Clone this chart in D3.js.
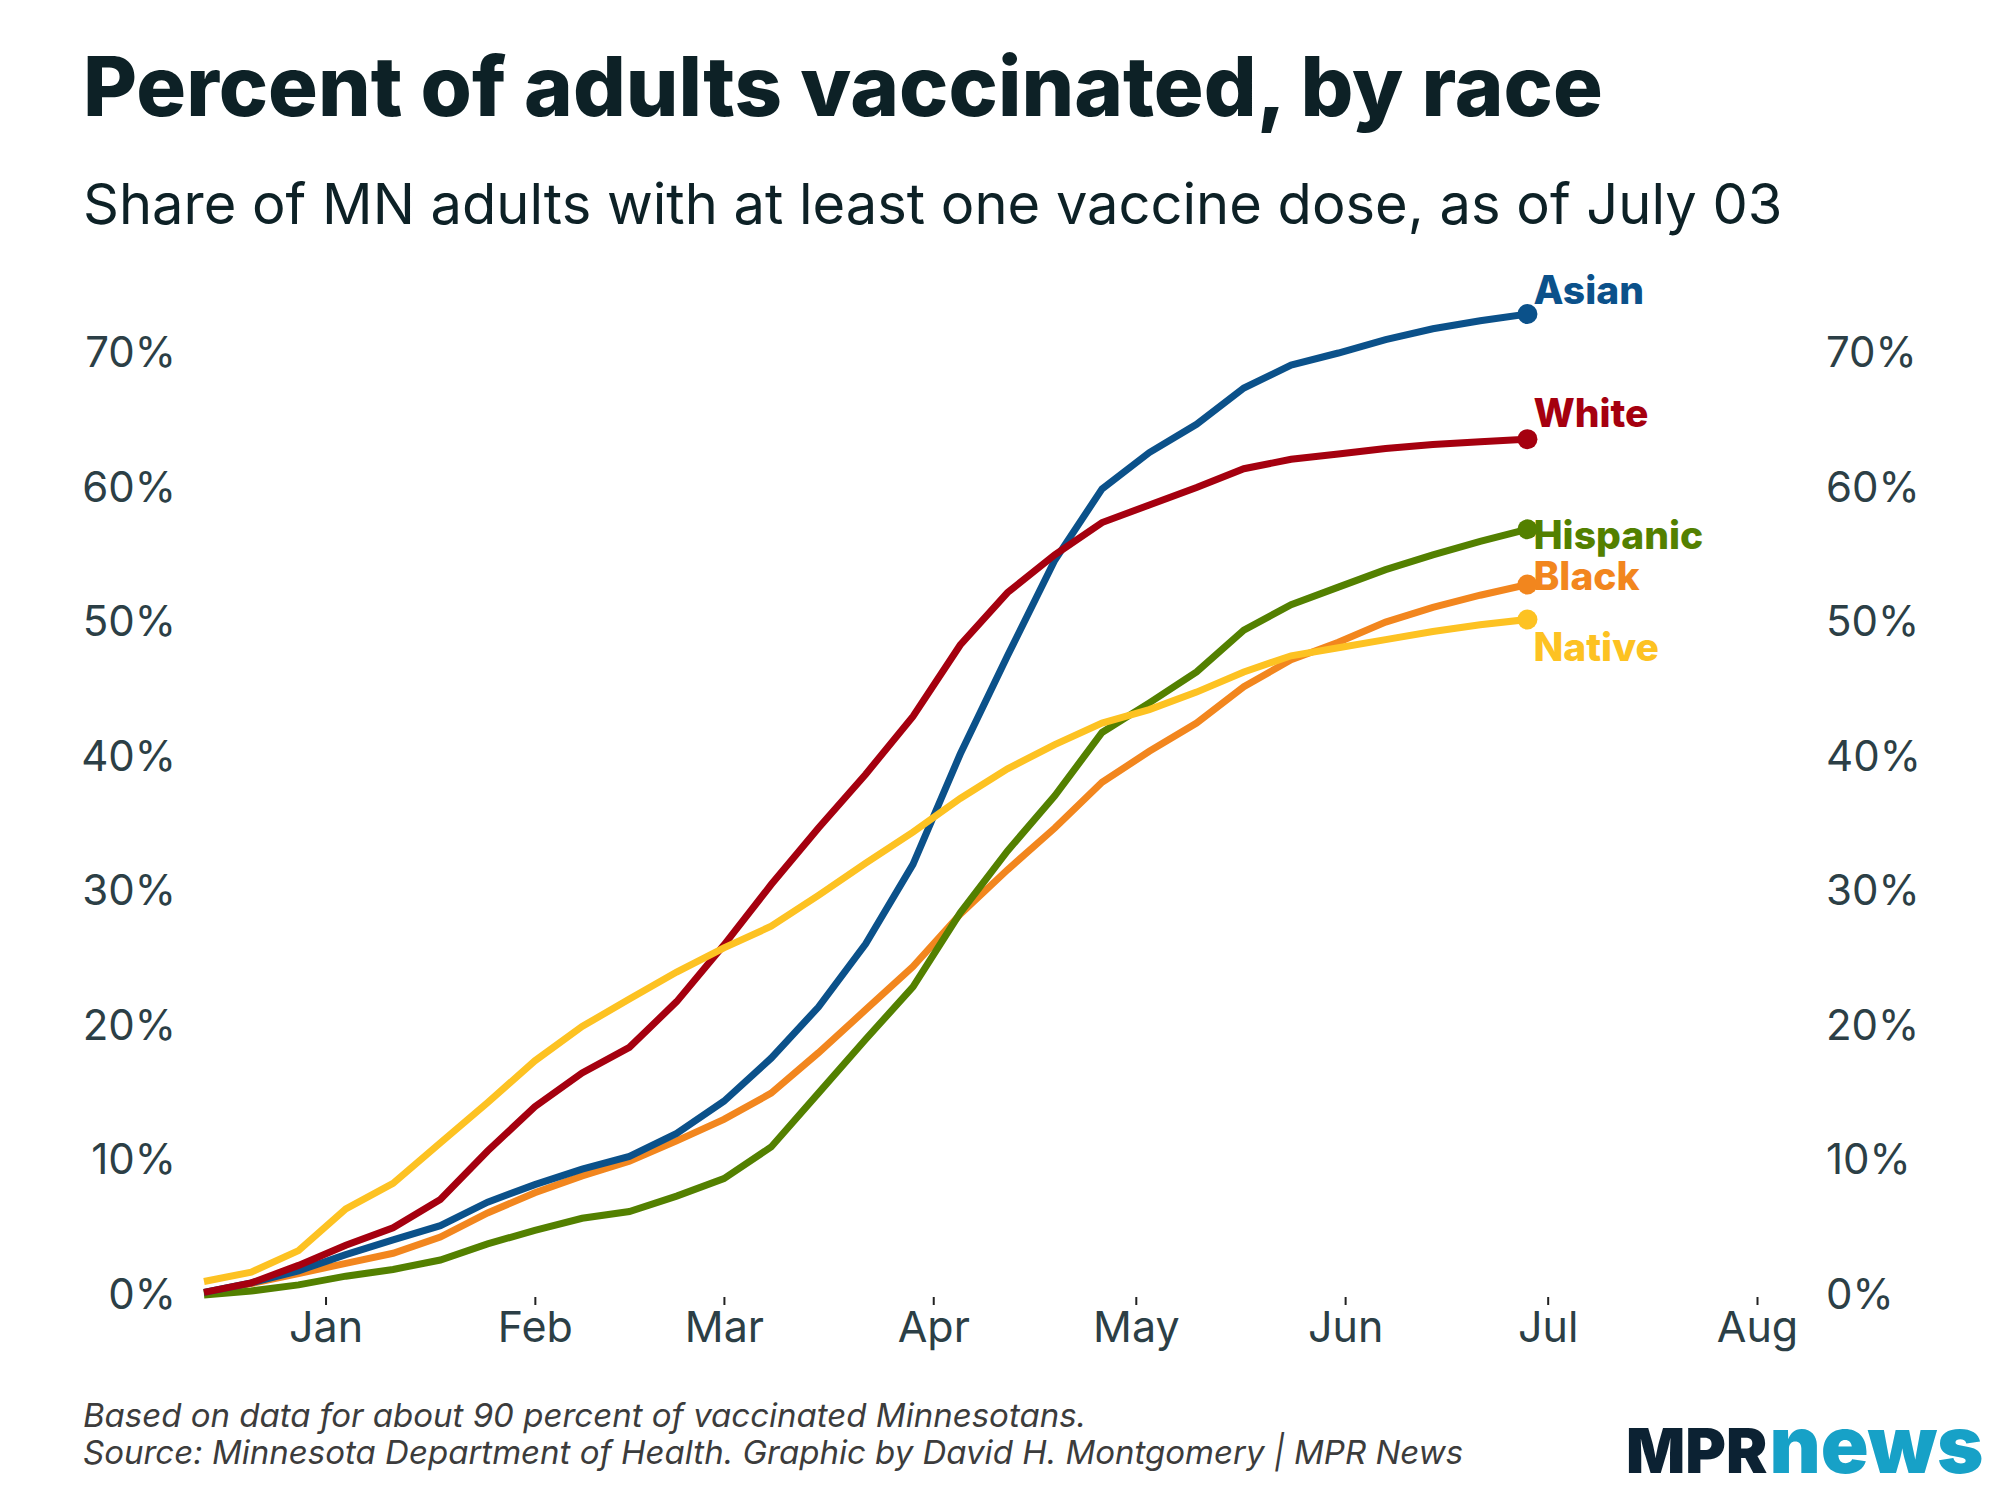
<!DOCTYPE html>
<html>
<head>
<meta charset="utf-8">
<script src="https://cdn.jsdelivr.net/npm/d3@7"></script>
<style>
  html, body { margin: 0; padding: 0; background: #ffffff; }
  svg { display: block; }
</style>
</head>
<body>
<script>
// ---------- DATA ----------
const dates = [
  "2020-12-14", "2020-12-21", "2020-12-28",
  "2021-01-04", "2021-01-11", "2021-01-18", "2021-01-25",
  "2021-02-01", "2021-02-08", "2021-02-15", "2021-02-22",
  "2021-03-01", "2021-03-08", "2021-03-15", "2021-03-22", "2021-03-29",
  "2021-04-05", "2021-04-12", "2021-04-19", "2021-04-26",
  "2021-05-03", "2021-05-10", "2021-05-17", "2021-05-24", "2021-05-31",
  "2021-06-07", "2021-06-14", "2021-06-21", "2021-06-28"
];

const seriesNames = ["Black", "Hispanic", "Asian", "White", "Native"];

const asian    = [0.2, 0.9, 1.8, 3.0, 4.1, 5.15, 6.9, 8.2, 9.35, 10.3, 12.0, 14.4, 17.6, 21.4, 26.1, 32.0, 40.2, 47.5, 54.6, 59.9, 62.6, 64.7, 67.4, 69.1, 70.0, 71.0, 71.8, 72.4, 72.9];
const white    = [0.2, 0.9, 2.2, 3.7, 5.0, 7.1, 10.7, 14.0, 16.5, 18.4, 21.8, 26.0, 30.5, 34.7, 38.7, 43.0, 48.3, 52.2, 55.0, 57.4, 58.7, 60.0, 61.4, 62.1, 62.5, 62.9, 63.2, 63.4, 63.6];
const hispanic = [0.0, 0.3, 0.75, 1.4, 1.9, 2.6, 3.8, 4.8, 5.7, 6.2, 7.35, 8.65, 11.0, 15.0, 19.0, 22.9, 28.4, 33.0, 37.1, 41.8, 44.0, 46.3, 49.4, 51.3, 52.6, 53.9, 55.0, 56.0, 56.9];
const black    = [0.15, 0.85, 1.6, 2.35, 3.1, 4.3, 6.1, 7.6, 8.85, 9.95, 11.45, 13.05, 15.0, 18.0, 21.2, 24.4, 28.3, 31.6, 34.7, 38.1, 40.4, 42.5, 45.2, 47.2, 48.5, 50.0, 51.1, 52.0, 52.8];
const native   = [1.0, 1.7, 3.3, 6.4, 8.3, 11.3, 14.3, 17.4, 19.95, 22.0, 24.0, 25.8, 27.4, 29.7, 32.1, 34.4, 36.9, 39.1, 40.9, 42.5, 43.5, 44.8, 46.3, 47.5, 48.1, 48.7, 49.3, 49.8, 50.2];

const yTicks = [0, 10, 20, 30, 40, 50, 60, 70];
const monthTicks = ["2021-01-01", "2021-02-01", "2021-03-01", "2021-04-01", "2021-05-01", "2021-06-01", "2021-07-01", "2021-08-01"];

const titleText = "Percent of adults vaccinated, by race";
const subtitleText = "Share of MN adults with at least one vaccine dose, as of July 03";
const noteLines = [
  "Based on data for about 90 percent of vaccinated Minnesotans.",
  "Source: Minnesota Department of Health. Graphic by David H. Montgomery | MPR News"
];

// ---------- STYLE ----------
const W = 2000, H = 1500;
const colors = { Asian: "#0b518a", White: "#a5000f", Hispanic: "#538000", Black: "#f2861e", Native: "#fdc222" };
const labelDy = { Asian: -10, White: -12, Hispanic: 20, Black: 6, Native: 42 };
const valuesBy = { Asian: asian, White: white, Hispanic: hispanic, Black: black, Native: native };

const parse = d3.utcParse("%Y-%m-%d");
const dateObjs = dates.map(parse);

const x = d3.scaleUtc()
  .domain([parse("2020-12-14"), parse("2021-08-01")])
  .range([204, 1757]);
const y = d3.scaleLinear().domain([0, 70]).range([1295, 353]);

const svg = d3.select("body").append("svg")
  .attr("width", W).attr("height", H)
  .attr("viewBox", `0 0 ${W} ${H}`);

svg.append("rect").attr("width", W).attr("height", H).attr("fill", "#ffffff");

const FONT = "Inter, 'Noto Sans', sans-serif";
const textDark = "#0d2126";
const axisCol = "#2c3f46";

// Title
svg.append("text")
  .attr("x", 83).attr("y", 116)
  .attr("font-family", FONT).attr("font-weight", 800)
  .attr("font-size", 83).attr("fill", textDark)
  .text(titleText);

svg.append("text")
  .attr("x", 83).attr("y", 224)
  .attr("font-family", FONT).attr("font-weight", 400)
  .attr("font-size", 56).attr("fill", textDark)
  .text(subtitleText);

// Y axes
const yLeft = svg.append("g").attr("transform", "translate(184,0)")
  .call(d3.axisLeft(y).tickValues(yTicks).tickSize(0).tickPadding(8).tickFormat(d => d + "%"));
const yRight = svg.append("g").attr("transform", "translate(1818,0)")
  .call(d3.axisRight(y).tickValues(yTicks).tickSize(0).tickPadding(8).tickFormat(d => d + "%"));
[yLeft, yRight].forEach(g => {
  g.select(".domain").remove();
  g.selectAll("text").attr("font-family", FONT).attr("font-size", 42).attr("fill", axisCol);
});

// X axis
const xAxis = svg.append("g").attr("transform", "translate(0,1297)")
  .call(d3.axisBottom(x).tickValues(monthTicks.map(parse)).tickSize(8).tickPadding(6)
    .tickFormat(d3.utcFormat("%b")));
xAxis.select(".domain").remove();
xAxis.selectAll("line").attr("stroke", "#222").attr("stroke-width", 2);
xAxis.selectAll("text").attr("font-family", FONT).attr("font-size", 43).attr("fill", axisCol);

// Lines
const line = d3.line()
  .x((d, i) => x(dateObjs[i]))
  .y(d => y(d));

seriesNames.forEach(name => {
  svg.append("path")
    .datum(valuesBy[name])
    .attr("fill", "none")
    .attr("stroke", colors[name])
    .attr("stroke-width", 7)
    .attr("stroke-linejoin", "miter")
    .attr("d", line);
});

// End dots and labels
seriesNames.forEach(name => {
  const vals = valuesBy[name];
  const last = vals.length - 1;
  const cx = x(dateObjs[last]), cy = y(vals[last]);
  svg.append("circle").attr("cx", cx).attr("cy", cy).attr("r", 10).attr("fill", colors[name]);
});
seriesNames.forEach(name => {
  const vals = valuesBy[name];
  const last = vals.length - 1;
  const cx = x(dateObjs[last]), cy = y(vals[last]);
  svg.append("text")
    .attr("x", cx + 6).attr("y", cy + labelDy[name])
    .attr("font-family", FONT).attr("font-weight", 800)
    .attr("font-size", 39).attr("fill", colors[name])
    .text(name);
});

// Notes
noteLines.forEach((t, i) => {
  svg.append("text")
    .attr("x", 83).attr("y", 1427 + i * 37)
    .attr("font-family", FONT).attr("font-style", "italic")
    .attr("font-size", 33).attr("fill", "#3c3c3c")
    .text(t);
});

// Logo
const logo = svg.append("text")
  .attr("x", 1626).attr("y", 1473)
  .attr("font-family", FONT).attr("font-weight", 900);
logo.append("tspan").attr("font-size", 62).attr("fill", "#0c2233").text("MPR");
logo.append("tspan").attr("font-size", 79).attr("fill", "#17a1c7").attr("dx", 2).text("news");
</script>
</body>
</html>
